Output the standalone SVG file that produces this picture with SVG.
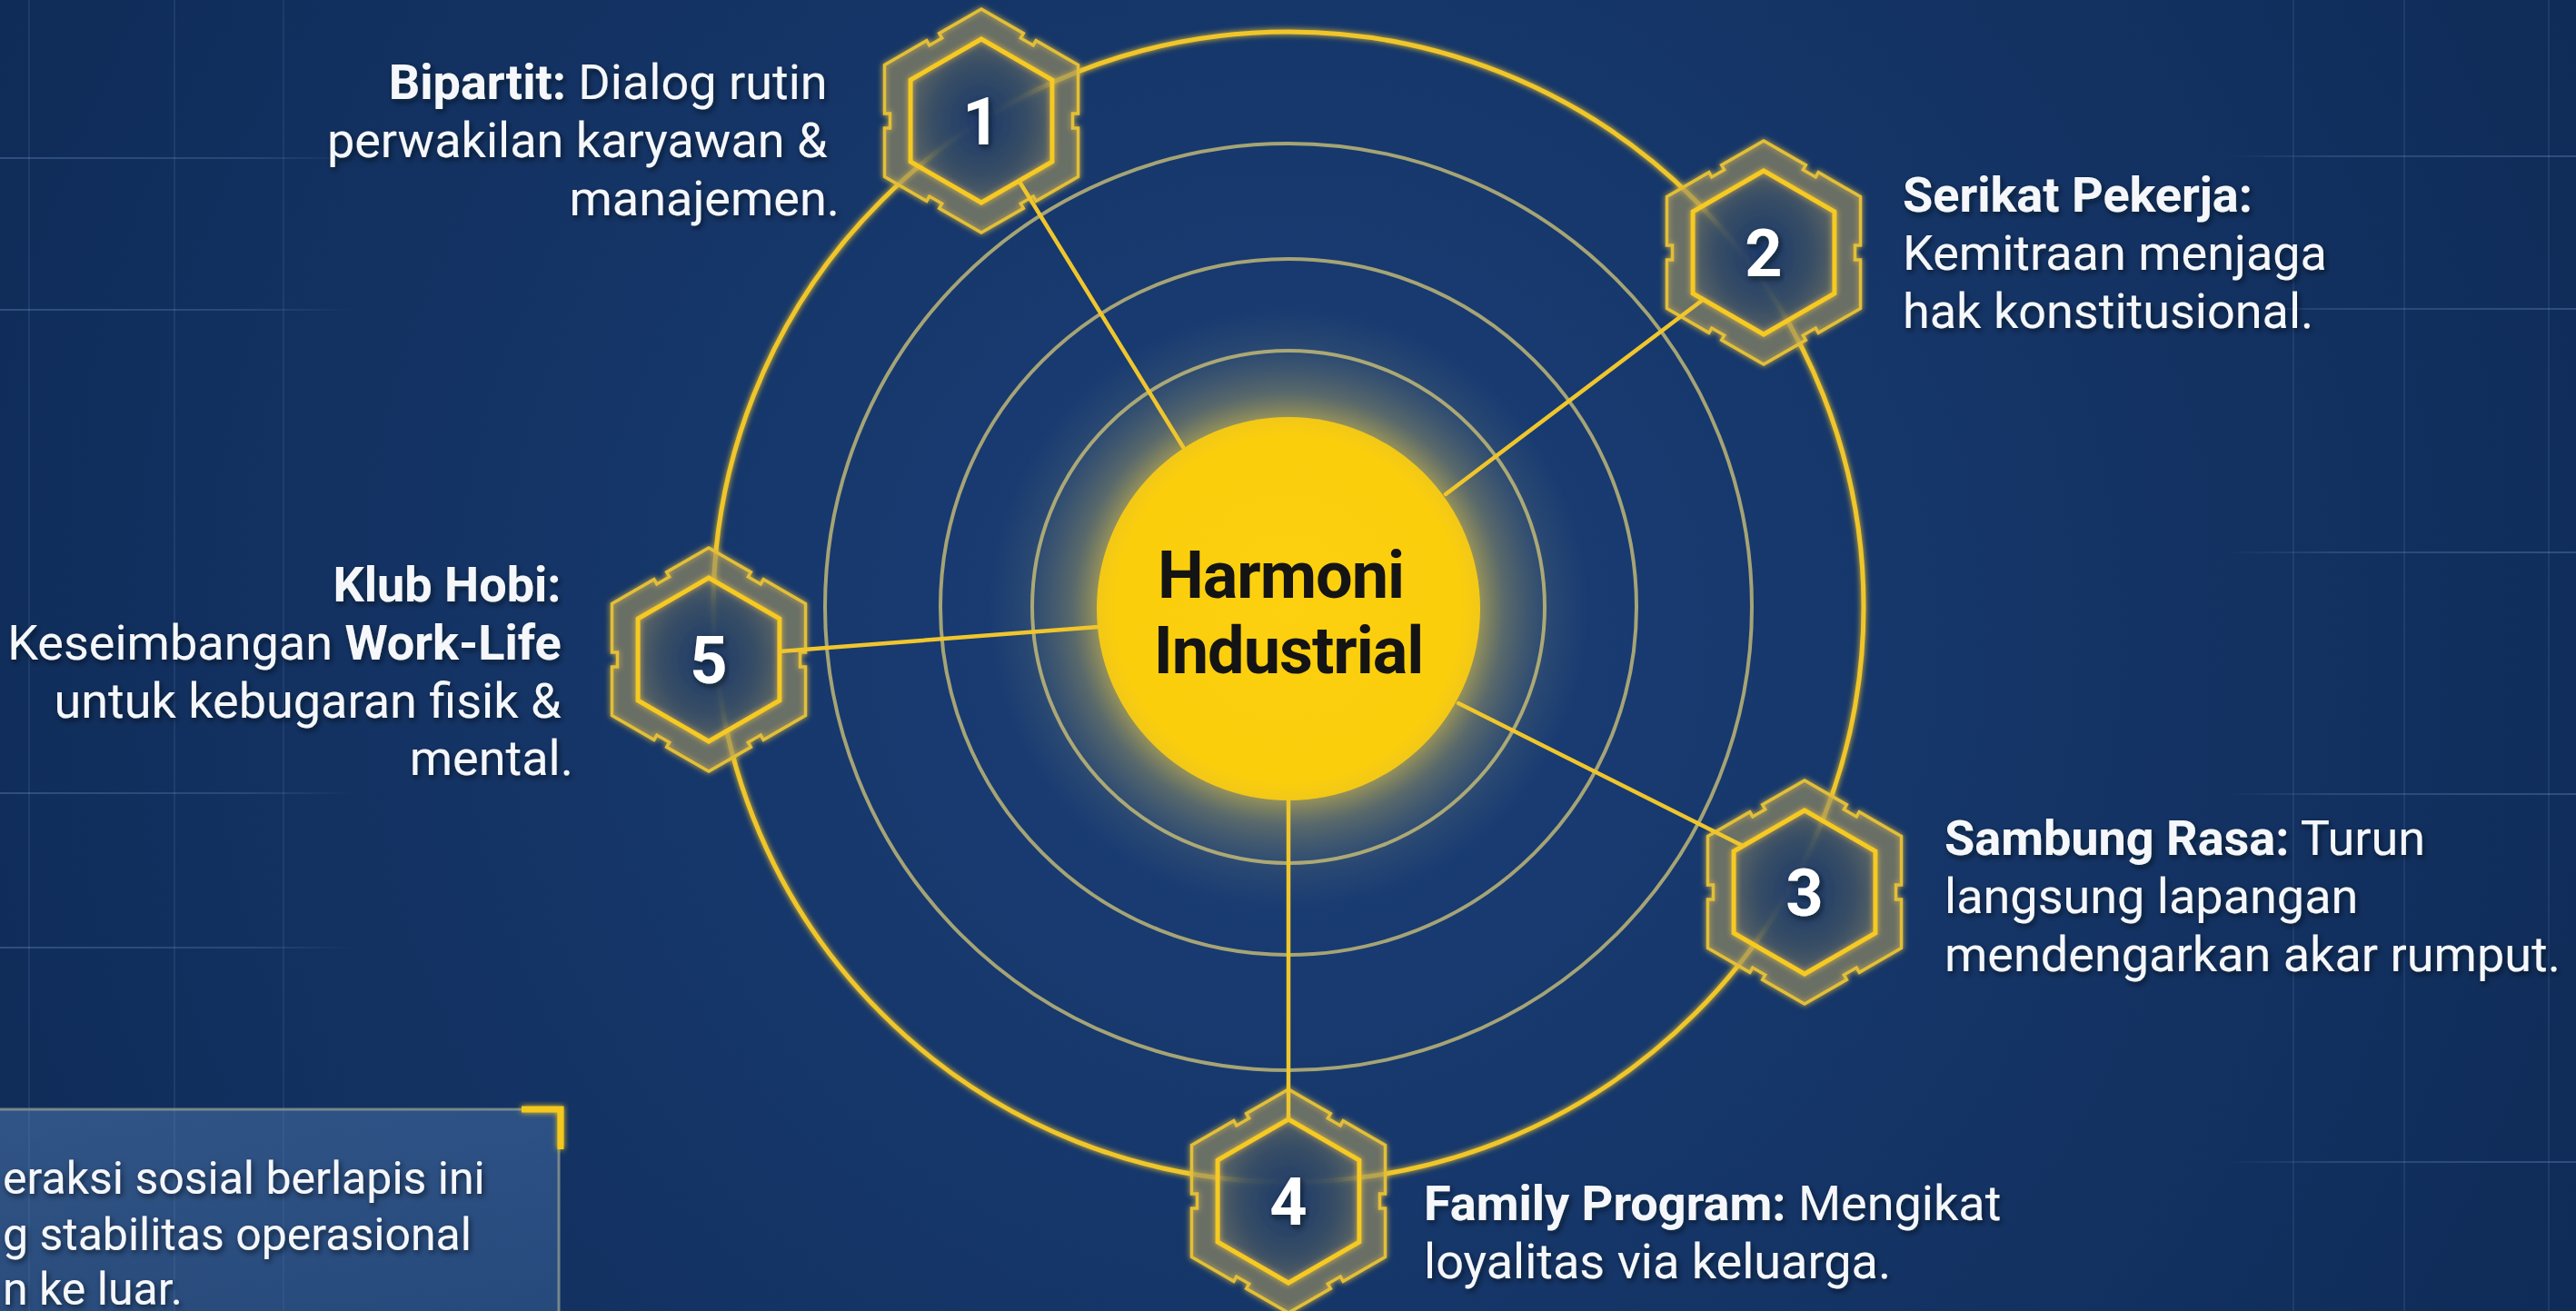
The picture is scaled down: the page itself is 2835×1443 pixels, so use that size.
<svg xmlns="http://www.w3.org/2000/svg" width="2835" height="1443" viewBox="0 0 2835 1443">
<defs>
<radialGradient id="bg" cx="1418" cy="700" r="1700" gradientUnits="userSpaceOnUse">
<stop offset="0" stop-color="#1b3f78"/><stop offset="1" stop-color="#0e2a55"/>
</radialGradient>
<linearGradient id="gl" x1="0" y1="0" x2="390" y2="0" gradientUnits="userSpaceOnUse">
<stop offset="0" stop-color="#7fa6dc" stop-opacity="0.28"/><stop offset="0.7" stop-color="#7fa6dc" stop-opacity="0.2"/><stop offset="1" stop-color="#7fa6dc" stop-opacity="0"/>
</linearGradient>
<linearGradient id="gr" x1="2450" y1="0" x2="2835" y2="0" gradientUnits="userSpaceOnUse">
<stop offset="0" stop-color="#7fa6dc" stop-opacity="0"/><stop offset="0.3" stop-color="#7fa6dc" stop-opacity="0.2"/><stop offset="1" stop-color="#7fa6dc" stop-opacity="0.28"/>
</linearGradient>
<radialGradient id="halo" cx="1418" cy="670" r="330" gradientUnits="userSpaceOnUse">
<stop offset="0.62" stop-color="#e0c448" stop-opacity="0.7"/><stop offset="0.72" stop-color="#a8a060" stop-opacity="0.45"/><stop offset="0.88" stop-color="#7e8870" stop-opacity="0.15"/><stop offset="1" stop-color="#7e8870" stop-opacity="0"/>
</radialGradient>
<radialGradient id="core" cx="0.5" cy="0.5" r="0.5">
<stop offset="0" stop-color="#fdd010"/><stop offset="0.9" stop-color="#fbce0c"/><stop offset="1" stop-color="#f2c818"/>
</radialGradient>
<radialGradient id="hexin" cx="0.5" cy="0.5" r="0.55">
<stop offset="0" stop-color="#12326a" stop-opacity="0.85"/><stop offset="0.6" stop-color="#1a3a66" stop-opacity="0.55"/><stop offset="1" stop-color="#1a3a66" stop-opacity="0.1"/>
</radialGradient>
<linearGradient id="boxfill" x1="0" y1="0" x2="1" y2="1">
<stop offset="0" stop-color="#5a86bd" stop-opacity="0.45"/><stop offset="1" stop-color="#4a76ad" stop-opacity="0.35"/>
</linearGradient>
<filter id="glow" x="-20%" y="-20%" width="140%" height="140%">
<feGaussianBlur stdDeviation="3" result="b"/>
<feMerge><feMergeNode in="b"/><feMergeNode in="SourceGraphic"/></feMerge>
</filter>
<filter id="ts" x="-5%" y="-20%" width="110%" height="150%">
<feDropShadow dx="2" dy="3" stdDeviation="3" flood-color="#000814" flood-opacity="0.6"/>
</filter>
<path id="hexout" d="M0,-123 L46.32,-96.25 L43.32,-91.05 L57.18,-83.05 L60.18,-88.25 L106.5,-61.5 L106.5,-8 L100.5,-8 L100.5,8 L106.5,8 L106.5,61.5 L60.18,88.25 L57.18,83.05 L43.32,91.05 L46.32,96.25 L0,123 L-46.32,96.25 L-43.32,91.05 L-57.18,83.05 L-60.18,88.25 L-106.5,61.5 L-106.5,8 L-100.5,8 L-100.5,-8 L-106.5,-8 L-106.5,-61.5 L-60.18,-88.25 L-57.18,-83.05 L-43.32,-91.05 L-46.32,-96.25 Z"/>
<path id="hexinp" d="M0,-90 L77.9,-45 L77.9,45 L0,90 L-77.9,45 L-77.9,-45 Z"/>
<g id="hex">
<use href="#hexout" fill="#988f62" fill-opacity="0.4" stroke="#e3bf38" stroke-width="3.5" stroke-linejoin="miter"/>
<use href="#hexinp" fill="url(#hexin)" stroke="#f6ca22" stroke-width="5"/>
</g>
</defs>
<style>
.lbl{font-family:Roboto,"Liberation Sans",sans-serif;font-size:54px;fill:#f5f7fb;filter:url(#ts)}
.note{font-size:50px}
.b{font-weight:700}
.num{font-family:Roboto,"Liberation Sans",sans-serif;font-size:72px;font-weight:700;fill:#ffffff;text-anchor:middle;filter:url(#ts)}
.ring{fill:none;stroke:#d6c878;stroke-opacity:0.75;stroke-width:4}
.conn{stroke:#f0c62c;stroke-width:4.5;stroke-linecap:round}
.grid{stroke-width:2}
</style>

<rect x="0" y="0" width="2835" height="1443" fill="url(#bg)"/>

<g id="grid">
<line class="grid" x1="32" y1="0" x2="32" y2="1443" stroke="#7fa6dc" stroke-opacity="0.13"/>
<line class="grid" x1="192" y1="0" x2="192" y2="1443" stroke="#7fa6dc" stroke-opacity="0.13"/>
<line class="grid" x1="312" y1="0" x2="312" y2="1443" stroke="#7fa6dc" stroke-opacity="0.11"/>
<line class="grid" x1="0" y1="174" x2="390" y2="174" stroke="url(#gl)"/>
<line class="grid" x1="0" y1="341" x2="390" y2="341" stroke="url(#gl)"/>
<line class="grid" x1="0" y1="873" x2="390" y2="873" stroke="url(#gl)"/>
<line class="grid" x1="0" y1="1043" x2="390" y2="1043" stroke="url(#gl)"/>
<line class="grid" x1="2524" y1="0" x2="2524" y2="1443" stroke="#7fa6dc" stroke-opacity="0.13"/>
<line class="grid" x1="2646" y1="0" x2="2646" y2="1443" stroke="#7fa6dc" stroke-opacity="0.13"/>
<line class="grid" x1="2805" y1="0" x2="2805" y2="1443" stroke="#7fa6dc" stroke-opacity="0.13"/>
<line class="grid" x1="2450" y1="172" x2="2835" y2="172" stroke="url(#gr)"/>
<line class="grid" x1="2450" y1="340" x2="2835" y2="340" stroke="url(#gr)"/>
<line class="grid" x1="2450" y1="608" x2="2835" y2="608" stroke="url(#gr)"/>
<line class="grid" x1="2450" y1="874" x2="2835" y2="874" stroke="url(#gr)"/>
<line class="grid" x1="2450" y1="1279" x2="2835" y2="1279" stroke="url(#gr)"/>
</g>

<g id="rings">
<circle cx="1418" cy="670" r="330" fill="url(#halo)"/>
<circle class="ring" cx="1418" cy="668" r="282"/>
<circle class="ring" cx="1418" cy="668" r="383"/>
<circle class="ring" cx="1418" cy="668" r="510"/>
<circle cx="1418" cy="668" r="633" fill="none" stroke="#f0c62a" stroke-width="5" filter="url(#glow)"/>
</g>

<g id="center">
<circle cx="1418" cy="670" r="211" fill="url(#core)"/>
<text font-family="Roboto,'Liberation Sans',sans-serif" font-size="72" font-weight="700" fill="#141414" text-anchor="middle" letter-spacing="-1">
<tspan x="1418" y="658">Harmoni</tspan>
<tspan x="1418" y="741">Industrial</tspan>
</text>
</g>

<g id="node1">
<use href="#hex" x="1080" y="133" filter="url(#glow)"/>
<text class="num" x="1080" y="159">1</text>
<text class="lbl" text-anchor="end">
<tspan x="924" y="109"><tspan class="b">Bipartit:</tspan> Dialog rutin</tspan>
<tspan x="924" y="173">perwakilan karyawan &amp;</tspan>
<tspan x="924" y="237">manajemen.</tspan>
</text>
</g>

<g id="node2">
<use href="#hex" x="1941" y="278" filter="url(#glow)"/>
<text class="num" x="1941" y="304">2</text>
<text class="lbl">
<tspan x="2094" y="233" class="b">Serikat Pekerja:</tspan>
<tspan x="2094" y="297">Kemitraan menjaga</tspan>
<tspan x="2094" y="361">hak konstitusional.</tspan>
</text>
</g>

<g id="node3">
<use href="#hex" x="1986" y="982" filter="url(#glow)"/>
<text class="num" x="1986" y="1008">3</text>
<text class="lbl">
<tspan x="2140" y="941"><tspan class="b">Sambung Rasa:</tspan> Turun</tspan>
<tspan x="2140" y="1005">langsung lapangan</tspan>
<tspan x="2140" y="1069">mendengarkan akar rumput.</tspan>
</text>
</g>

<g id="node4">
<use href="#hex" x="1418" y="1322" filter="url(#glow)"/>
<text class="num" x="1418" y="1348">4</text>
<text class="lbl">
<tspan x="1567" y="1343"><tspan class="b">Family Program:</tspan> Mengikat</tspan>
<tspan x="1567" y="1407">loyalitas via keluarga.</tspan>
</text>
</g>

<g id="node5">
<use href="#hex" x="780" y="726" filter="url(#glow)"/>
<text class="num" x="780" y="752">5</text>
<text class="lbl" text-anchor="end">
<tspan x="631" y="662" class="b">Klub Hobi:</tspan>
<tspan x="631" y="726">Keseimbangan <tspan class="b">Work-Life</tspan></tspan>
<tspan x="631" y="790">untuk kebugaran fisik &amp;</tspan>
<tspan x="631" y="853">mental.</tspan>
</text>
</g>

<g id="connectors">
<line class="conn" x1="1122" y1="200" x2="1302" y2="492"/>
<line class="conn" x1="1874" y1="330" x2="1591" y2="544"/>
<line class="conn" x1="1918" y1="931" x2="1605" y2="774"/>
<line class="conn" x1="1418" y1="1232" x2="1418" y2="881"/>
<line class="conn" x1="858" y1="717" x2="1209" y2="690"/>
</g>

<g id="note">
<rect x="-10" y="1221" width="625" height="240" fill="url(#boxfill)"/>
<path d="M0,1221 H615 V1443" fill="none" stroke="#8c9a90" stroke-opacity="0.8" stroke-width="3"/>
<path d="M574,1221 H617 V1265" fill="none" stroke="#f4c81c" stroke-width="7" filter="url(#glow)"/>
<text class="lbl note">
<tspan x="3" y="1314">eraksi sosial berlapis ini</tspan>
<tspan x="3" y="1376">g stabilitas operasional</tspan>
<tspan x="3" y="1436">n ke luar.</tspan>
</text>
</g>
</svg>
